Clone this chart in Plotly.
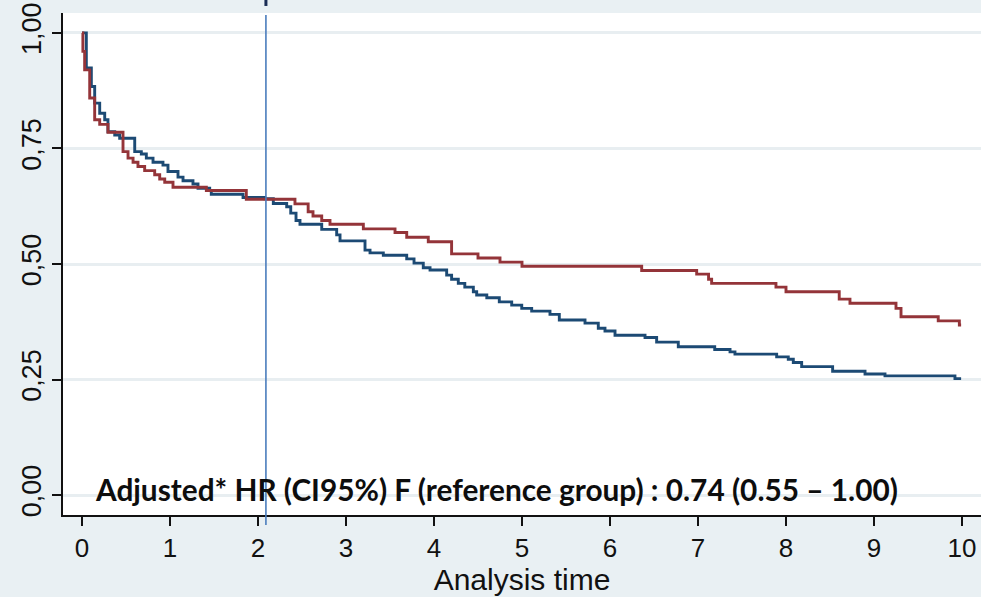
import plotly.graph_objects as go

# Kaplan-Meier step data (time, survival)
blue_time = [0.0, 0.049, 0.106, 0.144, 0.201, 0.258, 0.295, 0.372, 0.428, 0.599, 0.674, 0.731,
             0.807, 0.920, 0.977, 1.091, 1.148, 1.261, 1.318, 1.451, 1.469, 1.83, 2.076, 2.174,
             2.326, 2.372, 2.432, 2.477, 2.724, 2.894, 2.932, 3.216, 3.273, 3.424, 3.69, 3.773,
             3.878, 3.955, 4.144, 4.20, 4.276, 4.35, 4.447, 4.485, 4.60, 4.742, 4.883, 4.997,
             5.11, 5.318, 5.424, 5.716, 5.867, 5.943, 6.057, 6.398, 6.53, 6.776, 7.19, 7.364,
             7.42, 7.894, 8.026, 8.083, 8.178, 8.53, 8.898, 9.125, 9.92, 9.99]
blue_surv = [1.0, 0.924, 0.884, 0.848, 0.826, 0.812, 0.786, 0.779, 0.772, 0.743, 0.738, 0.729,
             0.720, 0.714, 0.700, 0.688, 0.680, 0.673, 0.664, 0.659, 0.651, 0.644, 0.641, 0.631,
             0.624, 0.610, 0.594, 0.586, 0.575, 0.563, 0.550, 0.530, 0.524, 0.519, 0.511, 0.502,
             0.492, 0.487, 0.476, 0.467, 0.458, 0.450, 0.440, 0.433, 0.427, 0.418, 0.411, 0.404,
             0.398, 0.391, 0.379, 0.372, 0.361, 0.355, 0.346, 0.341, 0.331, 0.321, 0.315, 0.310,
             0.305, 0.299, 0.294, 0.287, 0.278, 0.268, 0.262, 0.258, 0.252, 0.252]

red_time = [0.0, 0.01, 0.03, 0.0875, 0.144, 0.201, 0.295, 0.466, 0.523, 0.580, 0.636, 0.712,
            0.826, 0.883, 0.940, 1.034, 1.413, 1.867, 2.42, 2.57, 2.625, 2.724, 2.818, 3.197,
            3.557, 3.69, 3.935, 4.20, 4.50, 4.75, 5.00, 6.36, 6.985, 7.12, 7.155, 7.886, 8.0,
            8.605, 8.727, 9.25, 9.307, 9.73, 9.97, 9.99]
red_surv = [1.0, 0.96, 0.92, 0.859, 0.812, 0.802, 0.785, 0.743, 0.729, 0.720, 0.711, 0.702,
            0.693, 0.684, 0.677, 0.666, 0.659, 0.640, 0.630, 0.613, 0.604, 0.594, 0.586, 0.576,
            0.568, 0.558, 0.548, 0.522, 0.513, 0.504, 0.495, 0.486, 0.478, 0.467, 0.458, 0.450,
            0.440, 0.424, 0.415, 0.404, 0.386, 0.377, 0.368, 0.368]

x_ticks = [0, 1, 2, 3, 4, 5, 6, 7, 8, 9, 10]
y_ticks = [0.0, 0.25, 0.5, 0.75, 1.0]
y_tick_labels = ["0,00", "0,25", "0,50", "0,75", "1,00"]
marker_time = 2.09
annotation_text = "Adjusted* HR (CI95%) F (reference group) : 0.74 (0.55 \u2013 1.00)"

BG = "#e9f0f3"
fig = go.Figure()
fig.add_trace(go.Scatter(x=blue_time, y=blue_surv, mode="lines", line_shape="hv",
                         line=dict(color="#1c4a74", width=2.9), showlegend=False))
fig.add_trace(go.Scatter(x=red_time, y=red_surv, mode="lines", line_shape="hv",
                         line=dict(color="#943439", width=2.9), showlegend=False))

fig.add_shape(type="line", xref="x", yref="paper", x0=marker_time, x1=marker_time,
              y0=-0.02, y1=0.996, line=dict(color="#4a7dbd", width=1.6))
fig.add_shape(type="line", xref="x", yref="paper", x0=marker_time, x1=marker_time,
              y0=1.014, y1=1.03, line=dict(color="#1a2d55", width=3))

fig.add_annotation(x=0.4717, xref="paper", y=0.013, yref="y", text="<b>" + annotation_text + "</b>",
                   showarrow=False, font=dict(family="Lato", size=29.8, color="#0d0d0d"))

fig.update_layout(
    width=981, height=597,
    margin=dict(l=63, r=0, t=13, b=82),
    paper_bgcolor=BG, plot_bgcolor="white",
    font=dict(family="Liberation Sans, Arial", size=26, color="#111111"),
    xaxis=dict(range=[-0.216, 10.216], tickvals=x_ticks, ticks="outside", ticklen=9,
               tickwidth=1.5, tickcolor="#111111", showline=True, linecolor="#111111",
               linewidth=1.5, showgrid=False, zeroline=False,
               title=dict(text="Analysis time", standoff=0, font=dict(size=30)),
               tickfont=dict(size=26)),
    yaxis=dict(range=[-0.043, 1.043], tickvals=y_ticks, ticktext=y_tick_labels,
               tickangle=-90, ticks="outside", ticklen=9, tickwidth=1.5,
               tickcolor="#111111", showline=True, linecolor="#111111", linewidth=1.5,
               showgrid=True, gridcolor="#e8eef1", gridwidth=2.5, zeroline=False,
               tickfont=dict(size=27)),
)

fig.write_html("out.html", config={"displayModeBar": False},
               post_script="document.body.style.margin='0';document.body.style.overflow='hidden';")
